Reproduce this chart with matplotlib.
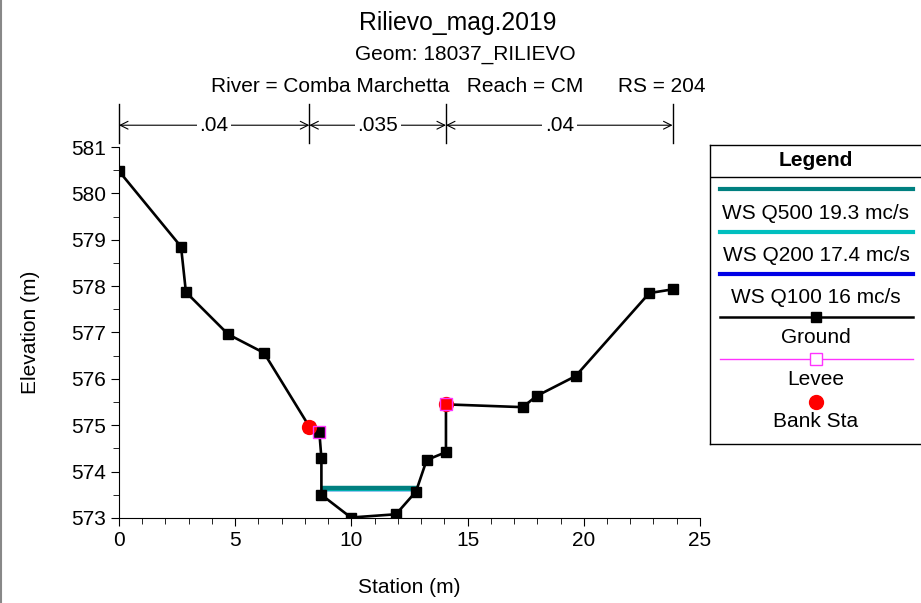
import matplotlib.pyplot as plt
from matplotlib.ticker import MultipleLocator
from matplotlib.lines import Line2D

plt.rcParams['font.family'] = ['Liberation Sans', 'DejaVu Sans']

# Dati della sezione
ground_x = [0, 2.67, 2.88, 4.70, 6.24, 8.19, 8.62, 8.71, 8.71, 9.98, 11.92,
            12.78, 13.24, 14.07, 14.07, 17.37, 17.97, 19.65, 22.82, 23.82]
ground_y = [580.48, 578.85, 577.87, 576.96, 576.56, 574.97, 574.86, 574.29, 573.50,
            573.01, 573.08, 573.57, 574.25, 574.42, 575.45, 575.39, 575.63, 576.06,
            577.85, 577.93]

levee_x = [8.62, 14.07]
levee_y = [574.86, 575.45]

bank_x = [8.19, 14.07]
bank_y = [574.97, 575.46]

ws_x = [8.71, 12.82]
ws_names = ['WS Q100 16 mc/s', 'WS Q200 17.4 mc/s', 'WS Q500 19.3 mc/s']
ws_elev = [573.615, 573.63, 573.645]
ws_colors = ['#0000E6', '#00BFBF', '#008080']

n_bounds = [0, 8.19, 14.07, 23.82]
n_values = ['.04', '.035', '.04']

FS = 15

fig = plt.figure(figsize=(9.21, 6.03), dpi=100)
ax = fig.add_axes([0.1292, 0.1410, 0.6308, 0.6152])

# Pelo libero
for elev, col in zip(ws_elev, ws_colors):
    ax.plot(ws_x, [elev, elev], color=col, lw=3.2, solid_capstyle='butt', zorder=2)

ax.plot(ground_x, ground_y, color='black', lw=1.9, marker='s', ms=6.5, zorder=3)
ax.plot(levee_x, levee_y, ls='none', marker='s', ms=9, mfc='none', mec='#FF33FF',
        mew=1, zorder=4)
ax.plot(bank_x, bank_y, ls='none', marker='o', ms=10, color='red', zorder=3.5)

ax.set_xlim(0, 25)
ax.set_ylim(573, 581)
ax.xaxis.set_major_locator(MultipleLocator(5))
ax.xaxis.set_minor_locator(MultipleLocator(1))
ax.yaxis.set_major_locator(MultipleLocator(1))
ax.yaxis.set_minor_locator(MultipleLocator(0.5))
ax.tick_params(which='major', length=6, labelsize=FS, direction='out')
ax.tick_params(which='minor', length=4, direction='out')
ax.spines['top'].set_visible(False)
ax.spines['right'].set_visible(False)
ax.set_xlabel('Station (m)', fontsize=FS, labelpad=20)
ax.set_ylabel('Elevation (m)', fontsize=FS, labelpad=22)

# Scabrezza di Manning
y_arrow = 581.47
for xb in n_bounds:
    ax.plot([xb, xb], [581.09, 581.92], color='black', lw=1, clip_on=False)
for i, val in enumerate(n_values):
    x0, x1 = n_bounds[i], n_bounds[i + 1]
    ax.annotate('', xy=(x1, y_arrow), xytext=(x0, y_arrow),
                arrowprops=dict(arrowstyle='<->', lw=0.8, color='black',
                                shrinkA=0, shrinkB=0, mutation_scale=14),
                annotation_clip=False)
    ax.text((x0 + x1) / 2, y_arrow, val, ha='center', va='center', fontsize=FS,
            bbox=dict(fc='white', ec='none', pad=2), clip_on=False)

fig.text(0.497, 0.962, 'Rilievo_mag.2019', ha='center', va='center', fontsize=17.8)
fig.text(0.505, 0.909, 'Geom: 18037_RILIEVO', ha='center', va='center', fontsize=FS)
fig.text(0.498, 0.856, 'River = Comba Marchetta   Reach = CM      RS = 204',
         ha='center', va='center', fontsize=FS)

# Legenda
lax = fig.add_axes([710 / 921, 1 - 444 / 603, 211 / 921, 299 / 603])
lax.set_xlim(710, 921)
lax.set_ylim(444, 145)
lax.set_xticks([])
lax.set_yticks([])
for s in lax.spines.values():
    s.set_linewidth(1)
lax.spines['right'].set_visible(False)
lax.plot([710, 921], [177, 177], color='black', lw=1)
lax.text(816, 160, 'Legend', ha='center', va='center', fontsize=FS, weight='bold')

xc = 816
for col, name, yl, yt in zip(ws_colors[::-1], ws_names[::-1], [189, 232, 274], [213, 255, 297]):
    lax.plot([720, 913], [yl, yl], color=col, lw=3)
    lax.text(xc, yt, name, ha='center', va='center', fontsize=FS)

lax.plot([720, 913], [317, 317], color='black', lw=1.8)
lax.plot([xc], [317], marker='s', ms=6.5, color='black')
lax.text(xc, 337, 'Ground', ha='center', va='center', fontsize=FS)
lax.plot([720, 913], [359, 359], color='#FF33FF', lw=1)
lax.plot([xc], [359], marker='s', ms=9, mfc='white', mec='#FF33FF', mew=1)
lax.text(xc, 379, 'Levee', ha='center', va='center', fontsize=FS)
lax.plot([xc], [402], marker='o', ms=10, color='red')
lax.text(xc, 421, 'Bank Sta', ha='center', va='center', fontsize=FS)

# bordo sinistro grigio
fig.add_artist(Line2D([0.0015, 0.0015], [0, 1], color='#888888', lw=1.5))

fig.savefig('out.png', dpi=100)
